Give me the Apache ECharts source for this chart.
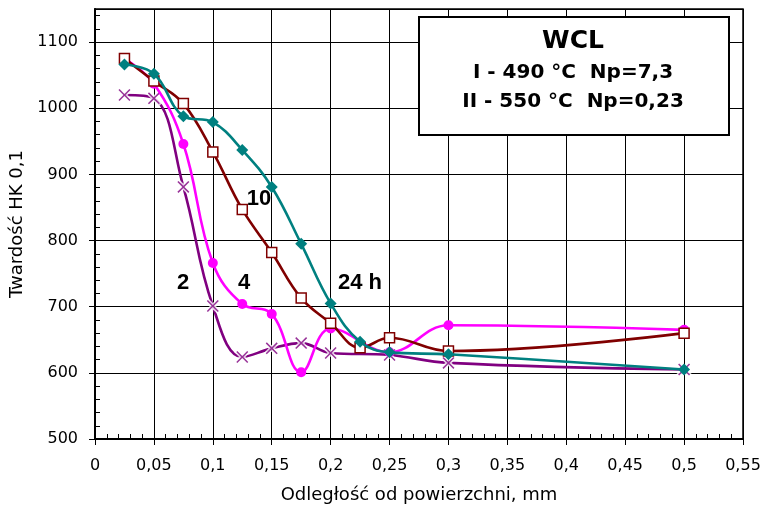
<!DOCTYPE html>
<html>
<head>
<meta charset="utf-8">
<script src="https://cdn.jsdelivr.net/npm/echarts@6/dist/echarts.min.js"></script>
<style>
html,body{margin:0;padding:0;background:#fff;}
#chart{width:765px;height:517px;}
</style>
</head>
<body>
<div id="chart"></div>
<script>
// ---- data ----
var xValues = [0.025, 0.05, 0.075, 0.1, 0.125, 0.15, 0.175, 0.2, 0.225, 0.25, 0.3, 0.5];
var hk2h  = [1020, 1015, 881, 701, 624, 637, 645, 630, null, 627, 615, 605];
var hk4h  = [1075, 1037, 946, 766, 704, 689, 601, 667, null, 631, 672, 665];
var hk10h = [1075, 1041, 1007, 934, 847, 782, 713, 675, 638, 653, 633, 660];
var hk24h = [1066, 1052, 988, 979, 937, 881, 795, 705, 647, 631, 628, 605];
var seriesNames = ['2 h', '4 h', '10 h', '24 h'];
var curveLabels = ['2', '4', '10', '24 h'];
var boxTitle = 'WCL';
var boxLine1 = 'I - 490 °C  Np=7,3';
var boxLine2 = 'II - 550 °C  Np=0,23';
var xTitle = 'Odległość od powierzchni, mm';
var yTitle = 'Twardość HK 0,1';

function pairs(ys){
  var out = [];
  for (var i = 0; i < xValues.length; i++) if (ys[i] != null) out.push([xValues[i], ys[i]]);
  return out;
}

var xPath = 'path://M0,0.9L0.9,0L5,4.1L9.1,0L10,0.9L5.9,5L10,9.1L9.1,10L5,5.9L0.9,10L0,9.1L4.1,5Z';
var FONT = 'DejaVu Sans';

var chart = echarts.init(document.getElementById('chart'), null, {renderer: 'canvas'});

var option = {
  animation: false,
  backgroundColor: '#fff',
  grid: {left: 95, right: 22, top: 9, bottom: 78, show: true, borderColor: '#000', borderWidth: 1.5},
  xAxis: [{
    type: 'value', min: 0, max: 0.55, interval: 0.05,
    name: xTitle, nameLocation: 'middle', nameGap: 47,
    nameTextStyle: {fontFamily: FONT, fontSize: 18, color: '#000'},
    axisLine: {show: true, onZero: false, lineStyle: {color: '#000', width: 2}},
    axisTick: {show: true, length: 6, lineStyle: {color: '#000', width: 1}},
    axisLabel: {fontFamily: FONT, fontSize: 16, color: '#000', margin: 19,
      formatter: function(v){ return String(+v.toFixed(2)).replace('.', ','); }},
    splitLine: {show: true, lineStyle: {color: '#000', width: 1}}
  }, {
    type: 'value', min: 0, max: 0.55, interval: 0.01, position: 'bottom',
    axisLine: {show: false}, axisLabel: {show: false}, splitLine: {show: false},
    axisTick: {show: true, inside: true, length: 5, lineStyle: {color: '#000', width: 1}}
  }],
  yAxis: [{
    type: 'value', min: 500, max: 1150, interval: 100,
    name: yTitle, nameLocation: 'middle', nameGap: 64, nameRotate: 90,
    nameTextStyle: {fontFamily: FONT, fontSize: 18, color: '#000'},
    axisLine: {show: true, onZero: false, lineStyle: {color: '#000', width: 2}},
    axisTick: {show: true, length: 6, lineStyle: {color: '#000', width: 1}},
    axisLabel: {fontFamily: FONT, fontSize: 16, color: '#000', margin: 17, showMaxLabel: false,
      formatter: function(v){ return v >= 1150 ? '' : String(v); }},
    splitLine: {show: true, lineStyle: {color: '#000', width: 1}}
  }, {
    type: 'value', min: 500, max: 1150, interval: 20, position: 'left',
    axisLine: {show: false}, axisLabel: {show: false}, splitLine: {show: false},
    axisTick: {show: true, inside: true, length: 5, lineStyle: {color: '#000', width: 1}}
  }],
  series: [
    {name: seriesNames[0], type: 'line', smooth: 0.4, data: pairs(hk2h), symbol: 'none',
      lineStyle: {color: '#800080', width: 2.6}, z: 2},
    {name: seriesNames[0] + ' halo', type: 'scatter', data: pairs(hk2h), symbol: xPath, symbolSize: 12,
      itemStyle: {color: '#fff', borderColor: '#fff', borderWidth: 3}, z: 3},
    {name: seriesNames[0] + ' marks', type: 'scatter', data: pairs(hk2h), symbol: xPath, symbolSize: 12,
      itemStyle: {color: '#800080'}, z: 4},
    {name: seriesNames[1], type: 'line', smooth: 0.4, data: pairs(hk4h), symbol: 'circle', symbolSize: 10,
      showAllSymbol: true,
      lineStyle: {color: '#ff00ff', width: 2.6}, itemStyle: {color: '#ff00ff', borderWidth: 0}, z: 5},
    {name: seriesNames[2], type: 'line', smooth: 0.4, data: pairs(hk10h), symbol: 'rect', symbolSize: 10,
      showAllSymbol: true,
      lineStyle: {color: '#800000', width: 2.6}, itemStyle: {color: '#fff', borderColor: '#800000', borderWidth: 1.5}, z: 6},
    {name: seriesNames[3], type: 'line', smooth: 0.4, data: pairs(hk24h), symbol: 'diamond', symbolSize: 12,
      showAllSymbol: true,
      lineStyle: {color: '#008080', width: 2.6}, itemStyle: {color: '#008080', borderWidth: 0}, z: 7}
  ],
  graphic: [
    {type: 'rect', left: 418, top: 16, z: 100,
      shape: {width: 310, height: 118}, style: {fill: '#fff', stroke: '#000', lineWidth: 2}},
    {type: 'text', x: 573, y: 41, z: 101, style: {text: boxTitle, fill: '#000', font: 'bold 25px "DejaVu Sans"', align: 'center', verticalAlign: 'middle'}},
    {type: 'text', x: 573, y: 73, z: 101, style: {text: boxLine1, fill: '#000', font: 'bold 20px "DejaVu Sans"', align: 'center', verticalAlign: 'middle'}},
    {type: 'text', x: 573, y: 102, z: 101, style: {text: boxLine2, fill: '#000', font: 'bold 20px "DejaVu Sans"', align: 'center', verticalAlign: 'middle'}},
    {type: 'text', x: 183, y: 283, z: 101, style: {text: curveLabels[0], fill: '#000', font: 'bold 22px "Liberation Sans"', align: 'center', verticalAlign: 'middle'}},
    {type: 'text', x: 244, y: 283, z: 101, style: {text: curveLabels[1], fill: '#000', font: 'bold 22px "Liberation Sans"', align: 'center', verticalAlign: 'middle'}},
    {type: 'text', x: 259, y: 199, z: 101, style: {text: curveLabels[2], fill: '#000', font: 'bold 22px "Liberation Sans"', align: 'center', verticalAlign: 'middle'}},
    {type: 'text', x: 360, y: 283, z: 101, style: {text: curveLabels[3], fill: '#000', font: 'bold 22px "Liberation Sans"', align: 'center', verticalAlign: 'middle'}}
  ]
};
chart.setOption(option);
</script>
</body>
</html>
